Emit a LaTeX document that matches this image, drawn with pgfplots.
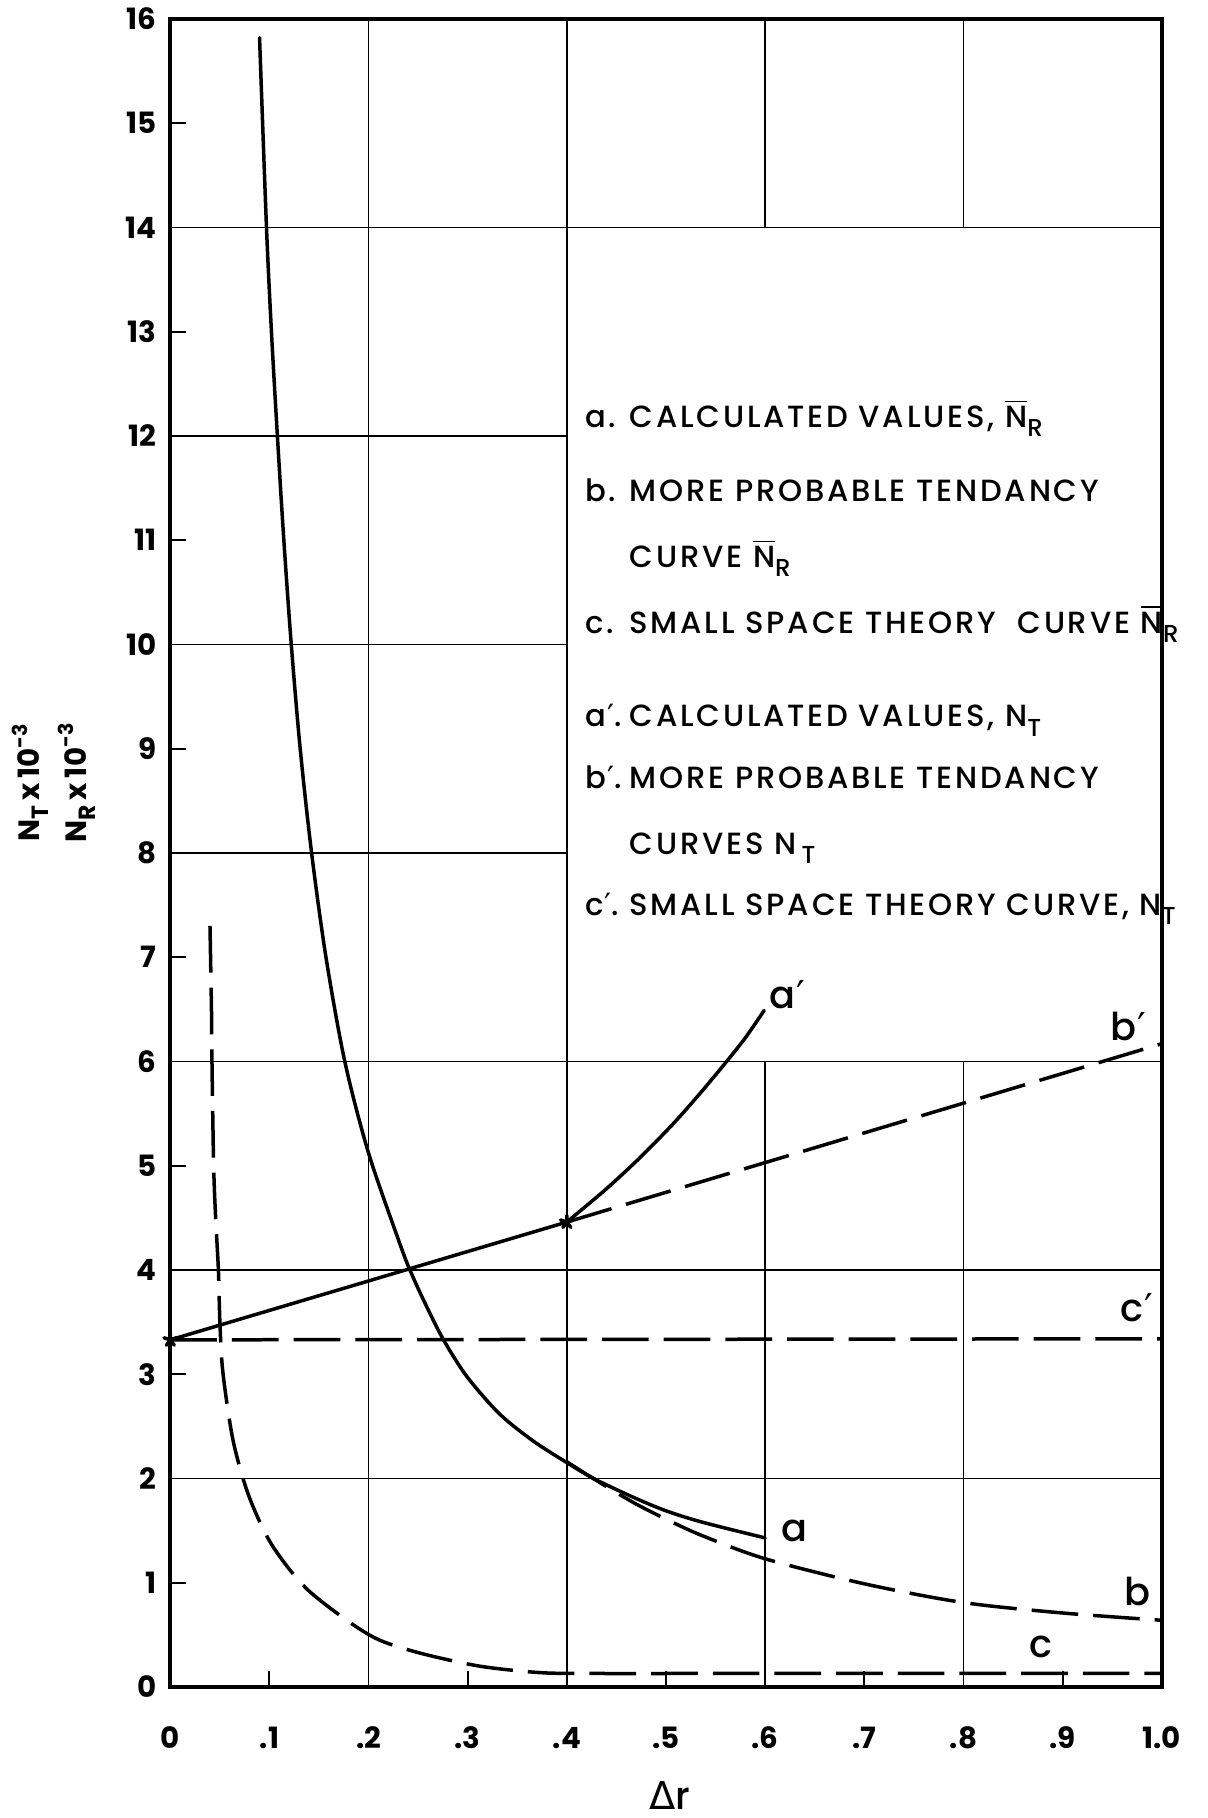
\documentclass[border=0pt]{standalone}
\usepackage{fontspec}
\setmainfont{Poppins}
\newfontfamily\popmed{Poppins Medium}
\newfontfamily\djv{DejaVu Sans}
\usepackage{pgfplots}
\pgfplotsset{compat=1.18}
\usetikzlibrary{calc}

% lettering helpers
\newcommand{\sub}[1]{\raisebox{-0.55ex}{\scalebox{0.8}{#1}}}
\newcommand{\Nb}{\(\overline{\hbox{N}}\)}
\newcommand{\pr}{{\djv\kern0.3pt ′}}
\newcommand{\legfont}{\popmed\fontsize{9.2}{11}\selectfont\addfontfeature{LetterSpace=9}}
\newcommand{\lblfont}{\popmed\fontsize{11.5}{13}\selectfont}

\begin{document}
\begin{tikzpicture}
\useasboundingbox (-51.1pt,-39.3pt) rectangle (311pt,506.1pt);
\begin{axis}[
  scale only axis,
  width=297.4pt, height=500.4pt,
  xmin=0, xmax=1, ymin=0, ymax=16,
  clip=false,
  axis line style={line width=1.2pt},
  /pgf/number format/assume math mode=true,
  xtick={0,0.1,0.2,0.3,0.4,0.5,0.6,0.7,0.8,0.9,1.0},
  xticklabels={0,.1,.2,.3,.4,.5,.6,.7,.8,.9,1.0},
  ytick={0,1,2,3,4,5,6,7,8,9,10,11,12,13,14,15,16},
  yticklabels={0,1,2,3,4,5,6,7,8,9,10,11,12,13,14,15,16},
  major tick length=0pt,
  minor xtick={0.1,0.3,0.5,0.7,0.9},
  minor ytick={1,3,5,7,9,11,13,15},
  minor tick length=4.8pt,
  tick align=inside,
  tick pos=left,
  minor tick style={line width=0.6pt, black},
  xticklabel style={font=\fontsize{8.8}{10}\selectfont\bfseries, anchor=center, inner sep=0pt, yshift=-15.3pt},
  yticklabel style={font=\fontsize{8.8}{10}\selectfont\bfseries, anchor=east, inner sep=0pt, xshift=-4pt},
  every axis plot/.append style={line width=1.05pt, black, line join=round, line cap=round},
  dashstyle/.style={dash pattern=on 14pt off 4.5pt, line cap=butt},
]

% partial grid
\begin{scope}[line width=0.45pt]
  \draw (axis cs:0.2,0) -- (axis cs:0.2,16);
  \draw (axis cs:0.4,0) -- (axis cs:0.4,16);
  \draw (axis cs:0.6,0) -- (axis cs:0.6,6);
  \draw (axis cs:0.8,0) -- (axis cs:0.8,6);
  \draw (axis cs:0.6,14) -- (axis cs:0.6,16);
  \draw (axis cs:0.8,14) -- (axis cs:0.8,16);
  \draw (axis cs:0,14) -- (axis cs:1,14);
  \draw (axis cs:0,6) -- (axis cs:1,6);
  \draw (axis cs:0,4) -- (axis cs:1,4);
  \draw (axis cs:0,2) -- (axis cs:1,2);
  \draw (axis cs:0,12) -- (axis cs:0.4,12);
  \draw (axis cs:0,10) -- (axis cs:0.4,10);
  \draw (axis cs:0,8) -- (axis cs:0.4,8);
\end{scope}

% a: calculated values, N_R
\addplot[smooth] coordinates {
  (0.090,15.82) (0.097,14.0) (0.102,13.0) (0.108,12.0) (0.1145,11.0)
  (0.122,10.0) (0.131,9.0) (0.1425,8.0) (0.157,7.0) (0.176,6.0)
  (0.200,5.12) (0.2316,4.25) (0.2417,4.0) (0.255,3.72) (0.275,3.34)
  (0.299,2.98) (0.332,2.62) (0.366,2.36) (0.397,2.17) (0.427,2.00)
  (0.467,1.82) (0.500,1.69) (0.537,1.58) (0.600,1.43)
};
% b: more probable tendency curve, N_R
\addplot[smooth, dashstyle] coordinates {
  (0.400,2.16) (0.430,1.98) (0.467,1.77) (0.500,1.61) (0.537,1.45)
  (0.600,1.23) (0.700,0.99) (0.800,0.81) (0.900,0.71) (1.000,0.64)
};
% c: small space theory curve, N_R
\addplot[smooth, dashstyle] coordinates {
  (0.040,7.30) (0.0415,6.5) (0.042,6.0) (0.0437,5.0) (0.0457,4.5)
  (0.0485,4.0) (0.0500,3.5) (0.053,3.02) (0.0634,2.36) (0.0793,1.83)
  (0.102,1.37) (0.1356,0.96) (0.178,0.64) (0.211,0.45) (0.254,0.32)
  (0.312,0.20) (0.370,0.14) (0.420,0.13) (0.600,0.13) (1.000,0.13)
};
% a': calculated values, N_T
\addplot coordinates {(0,3.33) (0.4,4.46)};
\addplot[smooth] coordinates {
  (0.400,4.46) (0.440,4.78) (0.474,5.08) (0.507,5.40) (0.534,5.69)
  (0.562,6.01) (0.581,6.24) (0.599,6.49)
};
% b': more probable tendency curves, N_T
\addplot[dashstyle] coordinates {(0.4,4.46) (1.0,6.17)};
% c': small space theory curve, N_T
\addplot[dashstyle] coordinates {(0,3.33) (1.0,3.34)};

% curve labels
\begin{scope}[every node/.style={font=\lblfont, inner sep=0pt}]
  \node[anchor=west] at (axis cs:0.604,6.64) {a\pr};
  \node at (axis cs:0.966,6.34) {b\pr};
  \node at (axis cs:0.975,3.64) {c\pr};
  \node at (axis cs:0.630,1.50) {a};
  \node at (axis cs:0.976,0.92) {b};
  \node at (axis cs:0.878,0.38) {c};
\end{scope}

% key
\begin{scope}[every node/.style={font=\legfont, inner sep=0pt, anchor=base west}]
  \node at (axis cs:0.418,12.08) {a.};
  \node at (axis cs:0.4627,12.08) {CALCULATED VALUES, \Nb\sub{R}};
  \node at (axis cs:0.418,11.37) {b.};
  \node at (axis cs:0.4627,11.37) {MORE PROBABLE TENDANCY};
  \node at (axis cs:0.4627,10.74) {CURVE \Nb\sub{R}};
  \node at (axis cs:0.418,10.11) {c.};
  \node at (axis cs:0.4627,10.11) {SMALL SPACE THEORY\ \ CURVE \Nb\sub{R}};
  \node at (axis cs:0.418,9.21) {a\pr.};
  \node at (axis cs:0.4627,9.21) {CALCULATED VALUES, N\sub{T}};
  \node at (axis cs:0.418,8.62) {b\pr.};
  \node at (axis cs:0.4627,8.62) {MORE PROBABLE TENDANCY};
  \node at (axis cs:0.4627,7.99) {CURVES N\,\sub{T}};
  \node at (axis cs:0.418,7.40) {c\pr.};
  \node at (axis cs:0.4627,7.40) {SMALL SPACE THEORY CURVE, N\sub{T}};
\end{scope}

% axis titles
\node[rotate=90, font=\fontsize{8.8}{10}\selectfont\bfseries, inner sep=0pt]
  at ($(axis cs:0,8.68)+(-42pt,0)$) {N\sub{T}\,x\,10\textsuperscript{-3}};
\node[rotate=90, font=\fontsize{8.8}{10}\selectfont\bfseries, inner sep=0pt]
  at ($(axis cs:0,8.68)+(-28pt,0)$) {N\sub{R}\,x\,10\textsuperscript{-3}};
\node[font=\popmed\fontsize{11.5}{13}\selectfont, inner sep=0pt]
  at ($(axis cs:0.504,0)+(0,-32.5pt)$) {{\djv Δ}r};
\end{axis}
\end{tikzpicture}
\end{document}
